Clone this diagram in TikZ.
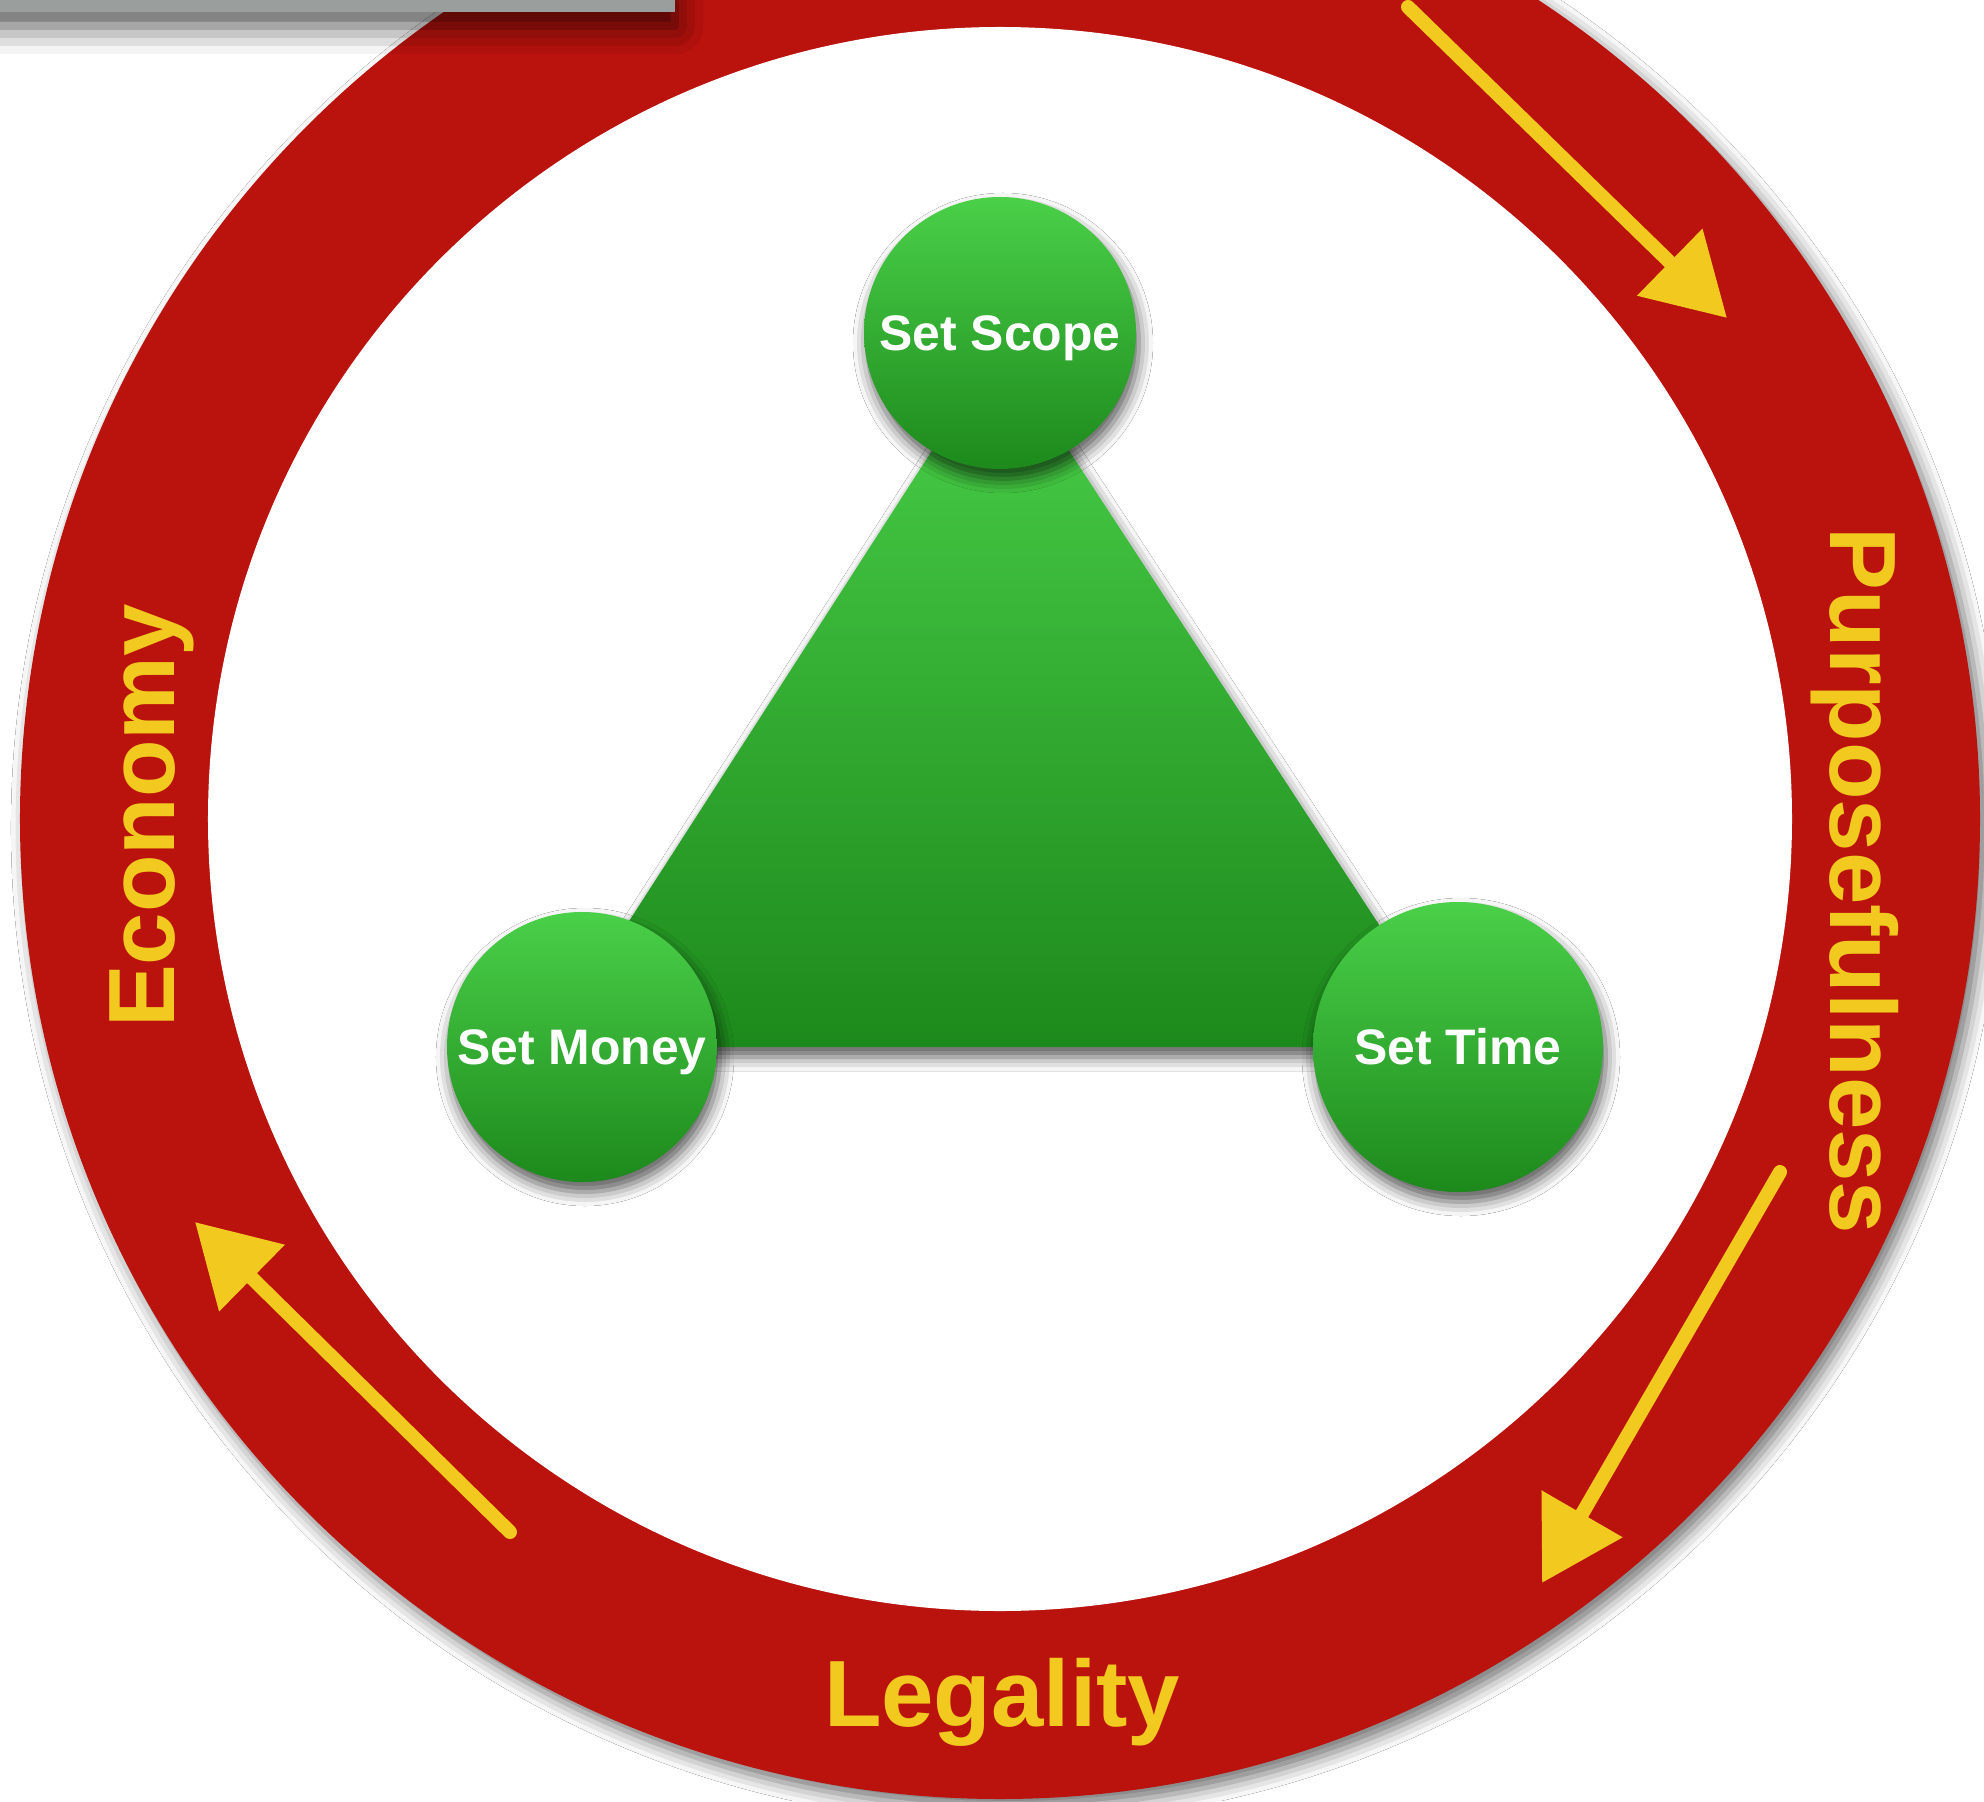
\documentclass[tikz,border=0pt]{standalone}
\usepackage{fontspec}
\setmainfont{Liberation Sans}
\usepackage{tikz}
\usetikzlibrary{calc, arrows.meta, shadows.blur}
\usepackage{tkz-euclide}
\usepackage{xcolor}

\definecolor{ringred}{HTML}{BA120D}
\definecolor{signyellow}{HTML}{F1C91F}
\definecolor{leafhi}{HTML}{4AD049}
\definecolor{leaflo}{HTML}{1D891C}
\definecolor{bargray}{HTML}{9A9E9C}

\tikzset{
  soft shadow/.style = {blur shadow={shadow xshift=0.03cm, shadow yshift=-0.10cm,
      shadow blur radius=0.14cm, shadow opacity=65}},
  stage/.style = {circle, inner sep=0pt, soft shadow, top color=leafhi,
      bottom color=leaflo, text=white, text height=10.2pt, text depth=0pt,
      font=\bfseries\fontsize{14.2}{16}\selectfont},
  ringlabel/.style = {text=signyellow, inner sep=0pt, anchor=base,
      font=\bfseries\fontsize{26.8}{30}\selectfont},
  marker/.style = {signyellow, line width=0.14cm, line cap=round,
      -{Triangle[length=0.8cm, width=0.9cm]}}
}

\begin{document}
\begin{tikzpicture}
            \useasboundingbox (-10.00,-9.82) rectangle (9.84,8.19);
            \fill[white] (-10.00,-9.82) rectangle (9.84,8.19);
            \tkzDefPoints{0/0/O, 0/4.86/S, -4.18/-2.28/M, 4.58/-2.28/T}
            \tkzDefPoints{0/4.74/A, -4.52/-2.28/B, 4.59/-2.28/C}
            \tkzDefPoints{4.08/8.12/P, 7.27/5.01/P', 7.80/-3.53/Q, 5.42/-7.64/Q'}
            \tkzDefPoints{-4.90/-7.13/R, -8.05/-4.03/R'}
            % the ring
            \fill[ringred, blur shadow={shadow xshift=0.07cm, shadow yshift=-0.09cm,
                shadow blur radius=0.16cm, shadow opacity=55}] (O) circle (9.80);
            \fill[white] (O) circle (7.92);
            % strip in the corner
            \fill[bargray, blur shadow={shadow xshift=0cm, shadow yshift=-0.14cm,
                shadow blur radius=0.28cm, shadow opacity=70}] (-10.20,8.30) rectangle (-3.25,8.07);
            % arrows round the ring
            \draw[marker] (P) -- (P');
            \draw[marker] (Q) -- (Q');
            \draw[marker] (R) -- (R');
            \node[ringlabel, rotate=90] (econ) at (-8.25,0.03) {Economy};
            \node[ringlabel] (legal) at (0.02,-9.07) {Legality};
            \node[ringlabel, rotate=-90] (purp) at (8.30,-0.62) {Purposefulness};
            % triangle and its corners
            \path[soft shadow, top color=leafhi, bottom color=leaflo] (A) -- (B) -- (C) -- cycle;
            \node[stage, minimum size=2.72cm] (scope) at (S) {Set Scope};
            \node[stage, minimum size=2.70cm] (money) at (M) {Set Money};
            \node[stage, minimum size=2.90cm] (time) at (T) {Set Time};
        \end{tikzpicture}
\end{document}
